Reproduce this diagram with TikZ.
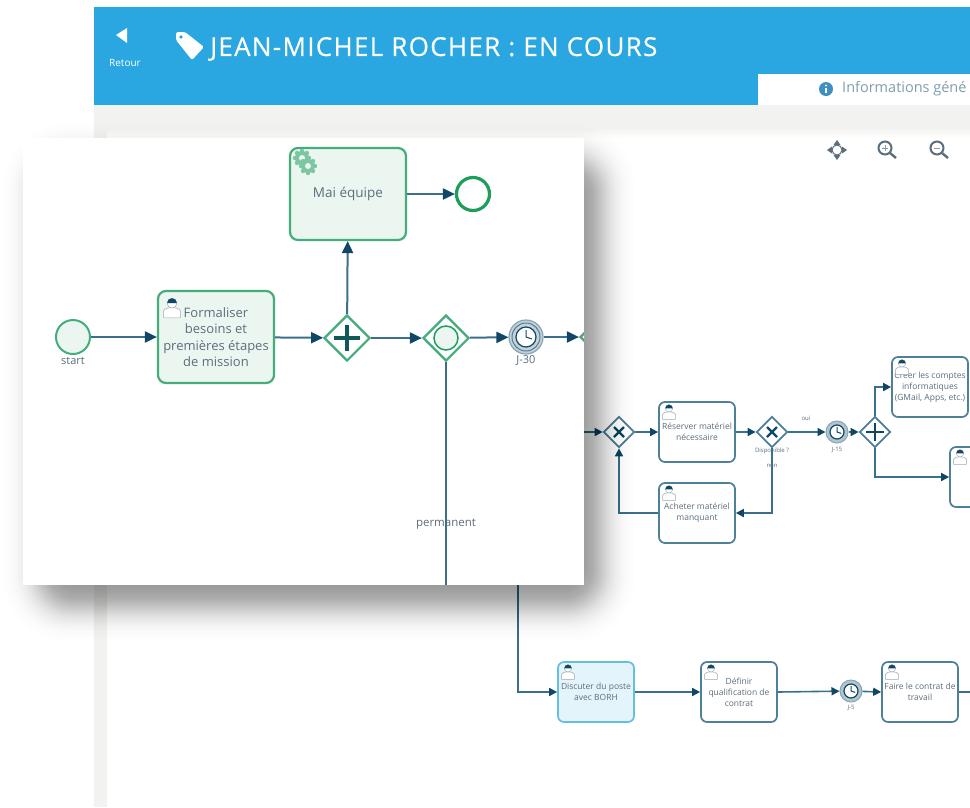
\documentclass[tikz,border=0pt]{standalone}
\usepackage{fontspec}
\setmainfont{Open Sans}
\usetikzlibrary{arrows.meta, shapes.geometric}
\definecolor{headblue}{HTML}{2AA7E0}
\definecolor{pagegray}{HTML}{F2F2F0}
\definecolor{flowblue}{HTML}{3A708C}
\definecolor{tipblue}{HTML}{114766}
\definecolor{doneline}{HTML}{45AD7C}
\definecolor{donefill}{HTML}{EBF6F0}
\definecolor{endgreen}{HTML}{1E9E5B}
\definecolor{plusdark}{HTML}{0F5A57}
\definecolor{labelgray}{HTML}{5C6E7C}
\definecolor{taskline}{HTML}{4E8097}
\definecolor{activeline}{HTML}{64BEDD}
\definecolor{activefill}{HTML}{E4F4FB}
\definecolor{iconblue}{HTML}{557E93}
\definecolor{infoblue}{HTML}{3F8FC0}
\tikzset{
    flow/.style={draw=flowblue, line width=2pt, -{Stealth[length=12pt, width=11pt, inset=0pt, tipblue]}},
    smallflow/.style={draw=flowblue, line width=1.6pt, -{Stealth[length=8pt, width=8pt, inset=0pt, tipblue]}},
    plainflow/.style={draw=flowblue, line width=2.4pt},
    bigtask/.style={draw=doneline, fill=donefill, line width=2.2pt, rounded corners=8pt, minimum width=116pt, minimum height=92pt, align=center, text=labelgray, font=\fontsize{13}{16.5}\selectfont},
    smalltask/.style={draw=taskline, fill=white, line width=1.7pt, rounded corners=6pt, minimum width=76pt, minimum height=60pt, align=center, text=labelgray, inner sep=0pt, font=\fontsize{8.5}{11}\selectfont},
    activetask/.style={smalltask, draw=activeline, fill=activefill},
    bigevent/.style={circle, draw=doneline, fill=donefill, line width=2pt, minimum size=34pt, inner sep=0pt},
    endevent/.style={circle, draw=endgreen, fill=white, line width=3.2pt, minimum size=33pt, inner sep=0pt},
    bigtimer/.style={circle, draw=iconblue!70, fill=iconblue!35, line width=1.2pt, minimum size=34pt, inner sep=0pt},
    smalltimer/.style={circle, draw=iconblue!70, fill=iconblue!45, line width=1pt, minimum size=22pt, inner sep=0pt},
    biggate/.style={diamond, draw=doneline, fill=white, line width=2.2pt, minimum size=46pt, inner sep=0pt},
    smallgate/.style={diamond, draw=taskline, fill=white, line width=1.7pt, minimum size=31pt, inner sep=0pt},
    caption/.style={text=labelgray, inner sep=0pt, font=\fontsize{11}{13}\selectfont},
    tinycap/.style={text=labelgray, inner sep=0pt, font=\fontsize{6}{7}\selectfont},
    pics/usericon/.style={code={
        \draw[draw=labelgray!60, fill=white, line width=.5pt] (-6,7) -- (-6,2) .. controls (-5,-1) and (5,-1) .. (6,2) -- (6,7) -- cycle;
        \draw[draw=labelgray!60, fill=white, line width=.5pt] (0,-3.5) circle (3.5);
        \fill[tipblue] (-3.5,-3.5) arc[start angle=180, end angle=360, radius=3.5] -- cycle;
    }},
    pics/clockface/.style={code={
        \draw[draw=tipblue, fill=white, line width=1.2pt] (0,0) circle (#1);
        \draw[draw=tipblue, line width=1pt] (0,-.7*#1) -- (0,0) -- (.6*#1,.2*#1);
    }},
    pics/clockface/.default=8,
}
\newcommand{\gearicon}[2]{%
    \foreach \a in {0,45,...,315} {
        \fill[doneline!70] ({#1+7*cos(\a)},{#2+7*sin(\a)}) circle (2.2);
    }
    \fill[doneline!70] (#1,#2) circle (7);
    \fill[donefill] (#1,#2) circle (3);
}
\newcommand{\zoomicon}[3]{%
    \draw[draw=labelgray, line width=2pt] (#1,#2) circle (6.5);
    \draw[draw=labelgray, line width=2.4pt] (#1+5,#2+5) -- (#1+11,#2+10);
    \draw[draw=labelgray!70, line width=1pt] (#1-3,#2) -- (#1+3,#2);
    #3
}
\begin{document}
\begin{tikzpicture}[x=1pt, y=-1pt, >=stealth]
    \useasboundingbox (0,0) rectangle (970,807);
    \fill[white] (0,0) rectangle (970,807);
    % page behind the card
    \fill[pagegray] (94,105) rectangle (970,807);
    \fill[white] (107,128) rectangle (970,807);
    \shade[top color=pagegray, bottom color=white] (107,128) rectangle (970,138);
    \fill[headblue] (94,7) rectangle (970,105);
    \fill[white] (758,74) rectangle (970,105);
    \fill[white] (116,35) -- (127,28) -- (127,43) -- cycle;
    \node[white, inner sep=0pt, font=\fontsize{10}{12}\selectfont] (retour) at (125,63) {Retour};
    \fill[white, rounded corners=1.5pt] (176,40) -- (176,32) -- (185,32) -- (204,47) -- (192,60) -- cycle;
    \fill[headblue] (181,37) circle (1.8);
    \node[white, anchor=west, inner sep=0pt, font=\fontsize{26}{30}\selectfont\addfontfeature{LetterSpace=5, FakeBold=0.4}] (titre) at (210,49) {JEAN-MICHEL ROCHER : EN COURS};
    \fill[infoblue] (826,89) circle (7);
    \fill[white] (825,88) rectangle (827,93);
    \fill[white] (826,85.5) circle (1.1);
    \node[text=iconblue!75, anchor=west, inner sep=0pt, font=\fontsize{14.5}{16}\selectfont] (onglet) at (842,89) {Informations géné};
    % toolbar
    \foreach \a in {0,90,180,270} {
        \fill[labelgray, shift={(837,150)}, rotate=\a] (10,0) -- (5,-3.5) -- (5,3.5) -- cycle;
    }
    \draw[draw=labelgray, line width=1pt] (837,150) circle (5);
    \zoomicon{885}{148}{\draw[draw=labelgray!70, line width=1pt] (885,145) -- (885,151);}
    \zoomicon{937}{148}{}
    % diagram behind
    \begin{scope}
        \clip (107,128) rectangle (970,807);
        \node[smallgate] (xleft) at (619,432) {};
        \node[smalltask] (reserver) at (697,432) {R\'eserver mat\'eriel\\n\'ecessaire};
        \node[smallgate] (xright) at (772,432) {};
        \node[smalltask] (acheter) at (697,513) {Acheter mat\'eriel\\manquant};
        \node[smalltimer] (timerA) at (837,432) {};
        \node[smallgate] (plusright) at (875,432) {};
        \node[smalltask] (comptes) at (930,387) {Cr\'eer les comptes\\informatiques\\(GMail, Apps, etc.)};
        \node[smalltask] (bureau) at (988,477) {};
        \node[activetask] (discuter) at (596,692) {Discuter du poste\\avec BORH};
        \node[smalltask] (definir) at (739,692) {D\'efinir\\qualification de\\contrat};
        \node[smalltimer] (timerB) at (851,691) {};
        \node[smalltask] (contrat) at (920,692) {Faire le contrat de\\travail};
        \coordinate (ouest) at (584,432);
        \coordinate (sortie) at (970,692);
        \coordinate (coudeA) at (518,585);
        \coordinate (coudeB) at (518,692);
        \draw[smallflow] (ouest) -- (xleft);
        \draw[smallflow] (xleft) -- (reserver);
        \draw[smallflow] (reserver) -- (xright);
        \draw[smallflow] (xright) -- (timerA);
        \draw[smallflow] (timerA) -- (plusright);
        \draw[smallflow] (plusright.north) |- (comptes.west);
        \draw[smallflow] (plusright.south) |- (bureau.west);
        \draw[smallflow] (xright.south) |- (acheter.east);
        \draw[smallflow] (acheter.west) -| (xleft.south);
        \draw[smallflow] (coudeA) -- (coudeB) -- (discuter.west);
        \draw[smallflow] (discuter) -- (definir);
        \draw[smallflow] (definir.east) -- (timerB);
        \draw[smallflow] (timerB) -- (contrat.west);
        \draw[plainflow, line width=1.6pt] (contrat.east) -- (sortie);
        \pic[scale=1.05] at (669,412) {usericon};
        \pic[scale=1.05] at (669,493) {usericon};
        \pic[scale=1.05] at (902,367) {usericon};
        \pic[scale=1.05] at (960,457) {usericon};
        \pic[scale=1.05] at (568,672) {usericon};
        \pic[scale=1.05] at (711,672) {usericon};
        \pic[scale=1.05] at (892,672) {usericon};
        \pic at (timerA) {clockface=7};
        \pic at (timerB) {clockface=7};
        \foreach \g in {xleft,xright} {
            \draw[draw=tipblue, line width=2.2pt] ([shift={(-5,-5)}]\g.center) -- ([shift={(5,5)}]\g.center);
            \draw[draw=tipblue, line width=2.2pt] ([shift={(-5,5)}]\g.center) -- ([shift={(5,-5)}]\g.center);
        }
        \draw[draw=tipblue, line width=2.8pt] (875,423) -- (875,441) (866,432) -- (884,432);
        \node[tinycap] (oui) at (806,418) {oui};
        \node[tinycap] (commit) at (772,451) {Disponible ?};
        \node[tinycap] (non) at (772,466) {non};
        \node[tinycap] (labelA) at (837,450) {J-15};
        \node[tinycap] (labelB) at (851,708) {J-5};
    \end{scope}
    % shadow of the card
    \foreach \s in {-40,-38,...,40} {
        \pgfmathsetmacro\opac{.0254*exp(-(\s*\s)/512)}
        \pgfmathsetmacro\rad{2+.8*(\s+40)}
        \fill[black, opacity=\opac, rounded corners=\rad pt] (40-\s,160-\s) rectangle (599+\s,605+\s);
    }
    % card
    \fill[white] (23,138) rectangle (584,585);
    \node[bigevent] (debut) at (73,337) {};
    \node[caption] (labeldebut) at (73,361) {start};
    \node[bigtask] (formaliser) at (216,337) {Formaliser\\besoins et\\premi\`eres \'etapes\\de mission};
    \node[biggate] (plusgate) at (347,338) {};
    \node[bigtask, font=\fontsize{13.5}{16}\selectfont] (mail) at (348,194) {Mai \'equipe};
    \node[endevent] (fin) at (473,194) {};
    \node[biggate] (incgate) at (446,338) {};
    \node[circle, draw=endgreen, fill=donefill, line width=1.5pt, minimum size=24pt, inner sep=0pt] (incring) at (incgate) {};
    \node[bigtimer] (timer) at (526,337) {};
    \node[caption] (labeltimer) at (526,361) {J-30};
    \coordinate (bas) at (446,585);
    \begin{scope}
        \clip (23,138) rectangle (584,585);
        \node[biggate, draw=doneline!70!gray] (suite) at (603,337) {};
    \end{scope}
    \draw[flow] (debut) -- (formaliser);
    \draw[flow] (formaliser) -- (plusgate);
    \draw[flow] (plusgate) -- (mail);
    \draw[flow] (mail) -- (fin);
    \draw[flow] (plusgate) -- (incgate);
    \draw[flow] (incgate) -- (timer);
    \draw[flow] (timer) -- (suite.west);
    \draw[plainflow] (incgate) -- (bas);
    \draw[draw=iconblue, line width=1pt] (timer) circle (14);
    \pic at (timer) {clockface=10};
    \draw[draw=plusdark, line width=3.5pt] (347,325) -- (347,351) (334,338) -- (360,338);
    \gearicon{302}{158}
    \gearicon{308}{166}
    \pic[scale=1.4] at (172,308) {usericon};
    \node[text=labelgray, inner sep=0pt, font=\fontsize{11.5}{14}\selectfont] (permanent) at (446,524.5) {permanent};
\end{tikzpicture}
\end{document}
